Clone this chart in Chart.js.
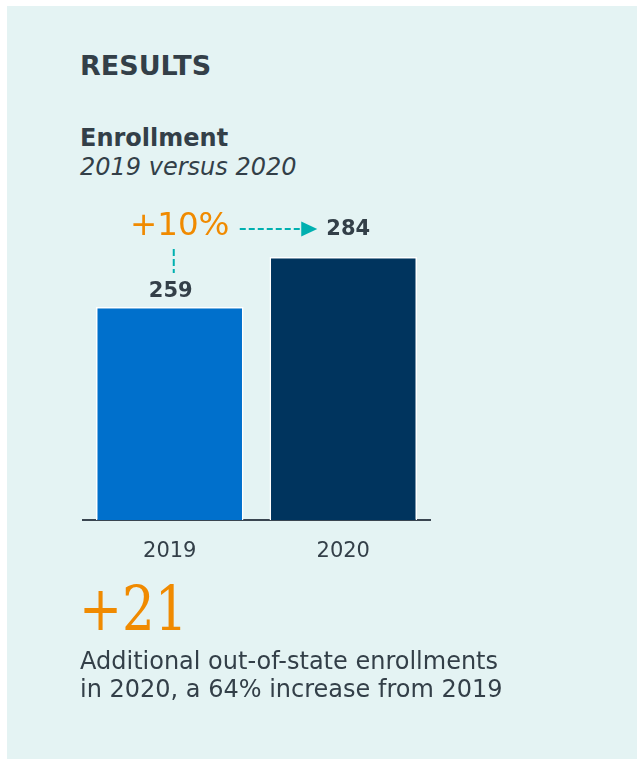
<!DOCTYPE html>
<html>
<head>
<meta charset="utf-8">
<script src="https://cdn.jsdelivr.net/npm/chart.js@4"></script>
<style>
  html, body { margin: 0; padding: 0; background: #ffffff; }
  body { width: 637px; height: 759px; position: relative; overflow: hidden; font-family: "DejaVu Sans", Verdana, sans-serif; color: #333f48; }
  #panel { position: absolute; left: 7px; top: 6px; right: 0; bottom: 0; background: #e4f3f3; }
  .txt { position: absolute; left: 80px; white-space: nowrap; }
  #head { top: 50px; font-size: 27px; font-weight: bold; }
  #sub1 { top: 124px; font-size: 24px; font-weight: bold; }
  #sub2 { top: 153px; font-size: 24px; font-style: italic; }
  #big { top: 572px; left: 79px; font-size: 62px; color: #f08a00; font-family: "DejaVu Serif", serif; transform: scaleX(0.83); transform-origin: left top; }
  #note { top: 647px; font-size: 24px; line-height: 28px; }
  #c { position: absolute; left: 0; top: 0; }
</style>
</head>
<body>
<div id="panel"></div>
<div class="txt" id="head">RESULTS</div>
<div class="txt" id="sub1">Enrollment</div>
<div class="txt" id="sub2">2019 versus 2020</div>
<canvas id="c" width="637" height="759"></canvas>
<div class="txt" id="big">+21</div>
<div class="txt" id="note">Additional out-of-state enrollments<br>in 2020, a 64% increase from 2019</div>
<script>
const years = ['2019', '2020'];
const enrollment = [259, 284];
const barColors = ['#0070cc', '#00345e'];
const changeLabel = '+10%';

const ink = '#333f48';
const teal = '#00b0b0';
const orange = '#f08a00';

const annotate = {
  id: 'annotate',
  afterDatasetsDraw(chart) {
    const c = chart.ctx;
    const bars = chart.getDatasetMeta(0).data;
    const b0 = bars[0], b1 = bars[1];
    c.save();
    c.fillStyle = ink;
    c.font = 'bold 21px "DejaVu Sans"';
    c.textAlign = 'center';
    c.textBaseline = 'middle';
    c.fillText(String(enrollment[0]), b0.x + 1, b0.y - 15);
    c.fillText(String(enrollment[1]), b1.x + 5, b1.y - 27);

    // +10% label
    c.fillStyle = orange;
    c.font = '32.5px "DejaVu Sans"';
    c.fillText(changeLabel, b0.x + 10, b1.y - 30);

    // dashed connectors
    c.strokeStyle = teal;
    c.lineWidth = 2;
    c.setLineDash([7, 3]);
    c.beginPath();
    c.moveTo(b0.x + 4, b0.y - 58);
    c.lineTo(b0.x + 4, b0.y - 34);
    c.stroke();
    c.setLineDash([6, 3]);
    c.beginPath();
    c.moveTo(b0.x + 70, b1.y - 28);
    c.lineTo(b1.x - 41, b1.y - 28);
    c.stroke();
    c.setLineDash([]);
    c.fillStyle = teal;
    c.beginPath();
    c.moveTo(b1.x - 42, b1.y - 35.5);
    c.lineTo(b1.x - 26, b1.y - 28);
    c.lineTo(b1.x - 42, b1.y - 20.5);
    c.closePath();
    c.fill();
    c.restore();
  }
};

new Chart(document.getElementById('c'), {
  type: 'bar',
  data: {
    labels: years,
    datasets: [{
      data: enrollment,
      backgroundColor: barColors,
      borderColor: '#ffffff',
      borderWidth: 1.5,
      borderSkipped: false,
      categoryPercentage: 1,
      barPercentage: 0.85
    }]
  },
  options: {
    responsive: false,
    animation: false,
    layout: { padding: { left: 83, right: 207, top: 190, bottom: 199 } },
    plugins: { legend: { display: false }, tooltip: { enabled: false } },
    scales: {
      y: { display: false, min: 152.5, max: 317.5 },
      x: {
        afterFit(s) { s.height = 40; },
        grid: { display: false, drawTicks: false },
        border: { display: true, color: '#3a4550', width: 2 },
        ticks: { color: ink, font: { family: 'DejaVu Sans', size: 21 }, padding: 19 }
      }
    }
  },
  plugins: [annotate]
});
</script>
</body>
</html>
